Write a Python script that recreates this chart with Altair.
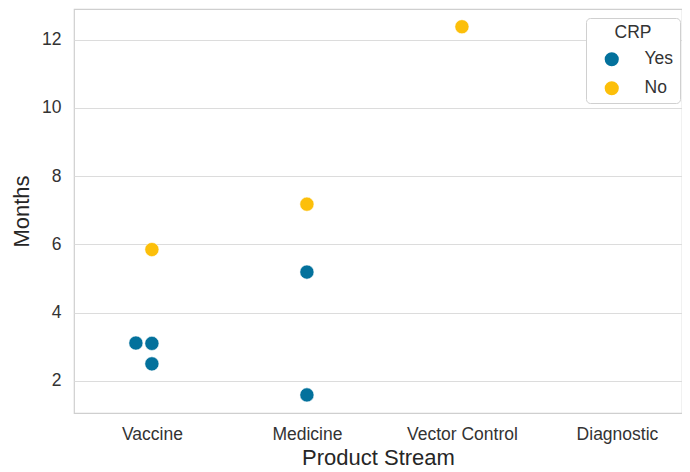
import altair as alt
import pandas as pd

streams = ["Vaccine", "Medicine", "Vector Control", "Diagnostic"]

point_stream = ["Vaccine", "Vaccine", "Vaccine", "Vaccine", "Medicine", "Medicine", "Medicine", "Vector Control"]
point_months = [5.85, 3.11, 3.10, 2.50, 7.18, 5.19, 1.59, 12.38]
point_crp = ["No", "Yes", "Yes", "Yes", "No", "Yes", "Yes", "No"]
swarm_slot = [0, -1, 0, 0, 0, 0, 0, 0]

crp_levels = ["Yes", "No"]
crp_colors = ["#03719c", "#fcbf0a"]
y_ticks = [2, 4, 6, 8, 10, 12]

df = pd.DataFrame({
    "Product Stream": point_stream,
    "Months": point_months,
    "CRP": point_crp,
    "slot": swarm_slot,
})

FONT = "Liberation Sans"

chart = alt.Chart(df).mark_circle(size=200, opacity=1, stroke="white", strokeWidth=0.6).encode(
    x=alt.X("Product Stream:N",
            sort=streams,
            scale=alt.Scale(type="point", domain=streams, padding=0.461, align=0.545),
            axis=alt.Axis(title="Product Stream", labelAngle=0, grid=False, ticks=False,
                          domain=False, labelPadding=12, titlePadding=5)),
    xOffset=alt.XOffset("slot:Q", scale=alt.Scale(domain=[-1, 1], range=[-16, 16])),
    y=alt.Y("Months:Q",
            scale=alt.Scale(domain=[1.06, 12.9], nice=False, zero=False),
            axis=alt.Axis(title="Months", values=y_ticks, grid=True, ticks=False,
                          domain=False, labelPadding=13, titlePadding=8)),
    color=alt.Color("CRP:N",
                    scale=alt.Scale(domain=crp_levels, range=crp_colors),
                    legend=alt.Legend(title="CRP", orient="none", legendX=512, legendY=9,
                                      symbolType="circle", symbolSize=200,
                                      symbolStrokeWidth=0, symbolOpacity=1,
                                      labelOffset=24, symbolOffset=11,
                                      padding=6, rowPadding=10, titlePadding=9,
                                      titleAnchor="middle")),
).properties(
    width=608,
    height=404,
    autosize=alt.AutoSizeParams(type="none"),
    padding={"left": 66, "top": 1, "right": 0, "bottom": 62},
).configure(
    font=FONT,
).configure_view(
    stroke="#cfcfcf",
    strokeWidth=1.2,
).configure_axis(
    labelFont=FONT,
    titleFont=FONT,
    labelFontSize=17.5,
    titleFontSize=22,
    labelColor="#333333",
    titleColor="#262626",
    titleFontWeight="normal",
    gridColor="#dcdcdc",
    gridWidth=1.2,
).configure_legend(
    labelFont=FONT,
    titleFont=FONT,
    labelFontSize=17.5,
    titleFontSize=17.5,
    labelColor="#333333",
    titleColor="#333333",
    titleFontWeight="normal",
    strokeColor="#d0d0d0",
    fillColor="white",
    cornerRadius=4,
)

chart.save("out.html", embed_options={"renderer": "svg", "actions": False})
